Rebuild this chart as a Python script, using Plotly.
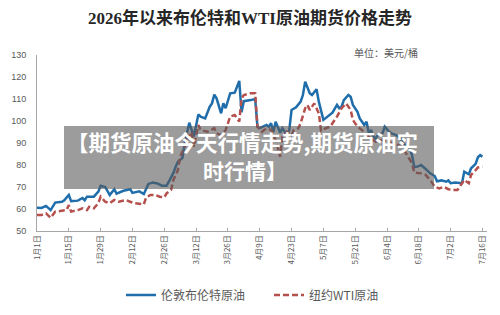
import plotly.graph_objects as go

brent_dates = ["2026-01-01","2026-01-03","2026-01-05","2026-01-07","2026-01-09","2026-01-12","2026-01-13","2026-01-15","2026-01-16","2026-01-19",
"2026-01-21","2026-01-22","2026-01-23","2026-01-26","2026-01-28","2026-01-29","2026-01-31","2026-02-02","2026-02-04","2026-02-05",
"2026-02-08","2026-02-11","2026-02-12","2026-02-15","2026-02-17","2026-02-19","2026-02-21","2026-02-23","2026-02-25","2026-02-27",
"2026-02-28","2026-03-02","2026-03-03","2026-03-04","2026-03-06","2026-03-07","2026-03-08","2026-03-09","2026-03-11","2026-03-13",
"2026-03-14","2026-03-16","2026-03-18","2026-03-19","2026-03-20","2026-03-21","2026-03-23","2026-03-24","2026-03-25","2026-03-27",
"2026-03-29","2026-03-31","2026-04-01","2026-04-02","2026-04-05","2026-04-07","2026-04-08","2026-04-09","2026-04-12","2026-04-13",
"2026-04-14","2026-04-15","2026-04-16","2026-04-18","2026-04-19","2026-04-21","2026-04-22","2026-04-23","2026-04-25","2026-04-27",
"2026-04-28","2026-04-29","2026-05-01","2026-05-02","2026-05-04","2026-05-05","2026-05-07","2026-05-09","2026-05-11","2026-05-13",
"2026-05-14","2026-05-15","2026-05-16","2026-05-18","2026-05-19","2026-05-20","2026-05-22","2026-05-23","2026-05-25","2026-05-26",
"2026-05-27","2026-05-28","2026-05-29","2026-05-30","2026-05-31","2026-06-02","2026-06-03","2026-06-05","2026-06-06","2026-06-08",
"2026-06-10","2026-06-11","2026-06-14","2026-06-15","2026-06-16","2026-06-18","2026-06-19","2026-06-21","2026-06-23","2026-06-25",
"2026-06-26","2026-06-28","2026-06-30","2026-07-01","2026-07-02","2026-07-04","2026-07-07","2026-07-08","2026-07-10","2026-07-11",
"2026-07-13","2026-07-14","2026-07-15","2026-07-16"]
brent_values = [60.6,60.5,61.4,59.5,62.9,63.3,64.0,66.4,63.6,63.8,
65.0,64.0,65.6,65.6,67.9,70.6,70.0,66.4,69.0,67.0,
68.3,69.0,67.3,68.0,66.8,71.4,72.0,71.6,70.6,70.6,
72.4,76.4,79.2,81.5,83.2,90.0,94.5,99.2,92.9,103.0,
102.0,101.2,106.5,108.0,112.0,110.3,103.5,108.0,105.8,112.6,
112.9,118.2,104.0,109.0,109.5,110.0,97.4,96.8,98.2,97.4,
99.0,95.0,99.7,94.7,96.7,93.6,95.9,105.0,106.2,108.8,
111.8,117.9,112.6,111.8,114.4,108.8,100.5,102.0,103.8,107.3,
105.8,106.5,109.5,111.8,111.0,107.3,104.2,101.2,98.2,99.7,
94.4,95.9,92.9,92.1,93.6,94.4,97.4,95.1,94.4,93.6,
92.1,89.9,87.6,84.5,79.0,79.5,80.0,78.2,76.2,75.0,
72.6,73.0,72.4,73.0,71.7,72.0,71.7,77.0,75.8,78.5,
80.5,83.5,84.5,83.8]

wti_dates = ["2026-01-01","2026-01-03","2026-01-05","2026-01-07","2026-01-09","2026-01-12","2026-01-14","2026-01-15","2026-01-16","2026-01-19",
"2026-01-21","2026-01-23","2026-01-24","2026-01-26","2026-01-28","2026-01-29","2026-01-31","2026-02-02","2026-02-04","2026-02-06",
"2026-02-09","2026-02-11","2026-02-13","2026-02-17","2026-02-18","2026-02-20","2026-02-22","2026-02-24","2026-02-26","2026-02-27",
"2026-03-01","2026-03-02","2026-03-04","2026-03-05","2026-03-07","2026-03-08","2026-03-10","2026-03-11","2026-03-13","2026-03-14",
"2026-03-17","2026-03-20","2026-03-21","2026-03-23","2026-03-25","2026-03-27","2026-03-29","2026-03-31","2026-04-01","2026-04-02",
"2026-04-05","2026-04-07","2026-04-08","2026-04-10","2026-04-12","2026-04-14","2026-04-16","2026-04-17","2026-04-18","2026-04-19",
"2026-04-21","2026-04-23","2026-04-24","2026-04-26","2026-04-27","2026-04-29","2026-04-30","2026-05-01","2026-05-03","2026-05-05",
"2026-05-06","2026-05-08","2026-05-10","2026-05-12","2026-05-13","2026-05-15","2026-05-17","2026-05-19","2026-05-20","2026-05-22",
"2026-05-24","2026-05-26","2026-05-28","2026-05-30","2026-06-02","2026-06-04","2026-06-06","2026-06-09","2026-06-11","2026-06-13",
"2026-06-15","2026-06-16","2026-06-19","2026-06-21","2026-06-23","2026-06-25","2026-06-27","2026-06-29","2026-07-01","2026-07-03",
"2026-07-05","2026-07-07","2026-07-08","2026-07-10","2026-07-11","2026-07-13","2026-07-14","2026-07-16"]
wti_values = [57.3,57.3,58.0,56.0,58.8,59.2,59.5,61.8,58.8,59.5,
60.3,59.5,61.0,60.3,62.6,65.6,63.3,62.6,64.1,63.3,
64.1,63.3,62.6,62.1,65.3,66.4,66.4,65.6,65.3,67.1,
68.6,73.2,77.7,83.8,88.3,91.4,95.1,88.3,98.2,95.9,
95.1,96.7,94.4,93.6,95.9,102.0,102.7,99.7,110.3,111.8,
112.6,112.6,97.4,95.1,96.7,95.9,91.4,87.6,83.8,92.9,
95.1,93.6,95.9,96.7,99.0,105.8,107.3,105.0,108.0,103.5,
95.5,96.7,97.4,100.5,102.0,105.8,108.0,105.0,100.5,97.4,
95.9,93.6,92.1,90.6,91.4,91.4,89.9,89.1,87.6,84.5,
80.8,76.5,76.2,75.5,73.2,70.1,69.4,70.1,69.0,68.6,
68.6,71.7,73.2,71.7,75.5,77.7,78.9,79.2]

tick_dates = ["2026-01-01","2026-01-15","2026-01-29","2026-02-12","2026-02-26","2026-03-12","2026-03-26",
"2026-04-09","2026-04-23","2026-05-07","2026-05-21","2026-06-04","2026-06-18","2026-07-02","2026-07-16"]
tick_labels = ["1月1日","1月15日","1月29日","2月12日","2月26日","3月12日","3月26日",
"4月9日","4月23日","5月7日","5月21日","6月4日","6月18日","7月2日","7月16日"]

series_names = ["伦敦布伦特原油", "纽约WTI原油"]
title_text = "2026年以来布伦特和WTI原油期货价格走势"
unit_text = "单位：美元/桶"
overlay_lines = ["【期货原油今天行情走势,期货原油实", "时行情】"]

fig = go.Figure()
fig.add_trace(go.Scatter(x=brent_dates, y=brent_values, mode="lines", name=series_names[0],
                         line=dict(color="#1f6eab", width=2.5)))
fig.add_trace(go.Scatter(x=wti_dates, y=wti_values, mode="lines", name=series_names[1],
                         line=dict(color="#b5504c", width=2.5, dash="6px,3px")))

L, R, T, B = 37, 13, 55, 84
pw = 500 - L - R
ph = 315 - T - B
def px(x): return (x - L) / pw
def py(y): return (315 - B - y) / ph

fig.update_layout(
    width=500, height=315,
    margin=dict(l=L, r=R, t=T, b=B, autoexpand=False),
    paper_bgcolor="white", plot_bgcolor="white",
    title=dict(text="<b>" + title_text + "</b>", x=0.5, xanchor="center", xref="container",
               y=1 - 18 / 315, yanchor="middle", yref="container",
               font=dict(family="Liberation Serif, Noto Sans CJK SC", size=17, color="#262626")),
    showlegend=True,
    legend=dict(orientation="h", x=px(121), xanchor="left", y=py(295), yanchor="middle",
                font=dict(family="Noto Sans CJK SC", size=12, color="#595959"),
                itemwidth=30, entrywidth=103, entrywidthmode="pixels"),
    font=dict(family="Liberation Sans, Noto Sans CJK SC", color="#595959"),
)
fig.update_xaxes(type="date", range=["2026-01-01", "2026-07-18"], tickvals=tick_dates, ticktext=tick_labels,
                 tickangle=-90, tickfont=dict(size=8, color="#595959", family="Noto Sans CJK SC"),
                 showline=True, linecolor="#a6a6a6", linewidth=1, showgrid=False, zeroline=False,
                 ticks="inside", ticklen=3, tickcolor="#a6a6a6")
fig.update_yaxes(range=[50, 130], dtick=10, tick0=50, showline=True, linecolor="#a6a6a6", linewidth=1,
                 showgrid=False, zeroline=False, ticks="", ticklabelstandoff=8,
                 tickfont=dict(size=9, color="#595959"))

fig.add_annotation(text=unit_text, xref="paper", yref="paper", x=px(386), y=py(53), xanchor="center",
                   yanchor="middle", showarrow=False, font=dict(size=10, color="#595959", family="Noto Sans CJK SC"))
fig.add_shape(type="rect", xref="paper", yref="paper", x0=px(64), x1=px(434), y0=py(189), y1=py(126),
              fillcolor="rgba(90,90,90,0.6)", line=dict(width=0), layer="above")
fig.add_annotation(text="<b>" + overlay_lines[0] + "</b>", xref="paper", yref="paper", x=px(242), y=py(141.5),
                   xanchor="center", yanchor="middle", showarrow=False,
                   font=dict(size=21.5, color="white", family="Noto Sans CJK SC"))
fig.add_annotation(text="<b>" + overlay_lines[1] + "</b>", xref="paper", yref="paper", x=px(245), y=py(169.5),
                   xanchor="center", yanchor="middle", showarrow=False,
                   font=dict(size=21, color="white", family="Noto Sans CJK SC"))

fig.write_html("out.html")
